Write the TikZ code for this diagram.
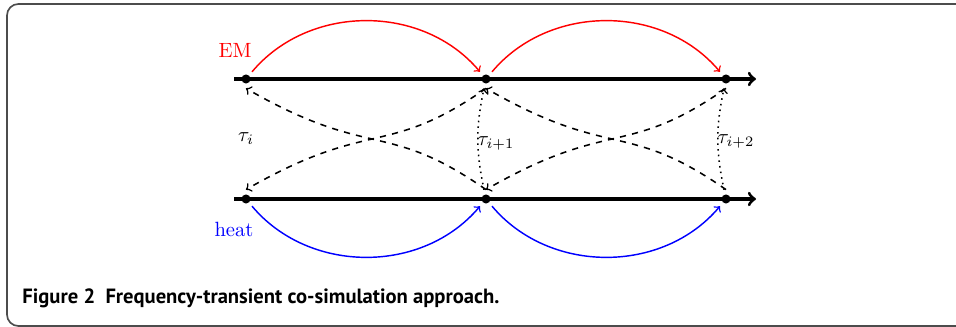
\documentclass[tikz,border=0pt]{standalone}
\usepackage{fontspec}
\newfontfamily\capfont{PT Sans}
\begin{document}
\begin{tikzpicture}[x=0.485pt,y=-0.485pt,
  pt/.style={circle,minimum size=8.7pt,inner sep=0pt,draw=none},
  axis/.style={line width=1.5pt,->},
  emarc/.style={red,line width=0.7pt,->},
  heatarc/.style={blue,line width=0.7pt,->},
  xfer/.style={dashed,line width=0.75pt,->},
  tau/.style={dotted,line width=0.75pt,->},
  frame/.style={draw=black!70,line width=0.8pt,rounded corners=5.5pt}]
\useasboundingbox (0,0) rectangle (956,327);
\clip (0,0) rectangle (956,327);
\draw[frame] (7,4) rectangle (990,326);
% time lines
\coordinate (ta0) at (234,79);
\coordinate (ta1) at (756,79);
\coordinate (tb0) at (234,199);
\coordinate (tb1) at (756,199);
\draw[axis] (ta0) -- (ta1);
\draw[axis] (tb0) -- (tb1);
% points
\node[pt] (a1) at (246,79) {};
\node[pt] (a2) at (486,79) {};
\node[pt] (a3) at (726,79) {};
\node[pt] (b1) at (246,199) {};
\node[pt] (b2) at (486,199) {};
\node[pt] (b3) at (726,199) {};
\foreach \n in {a1,a2,a3,b1,b2,b3} \fill (\n.center) circle[radius=2.2pt];
% EM and heat arcs
\draw[emarc] (a1) to[out=50,in=130] (a2);
\draw[emarc] (a2) to[out=50,in=130] (a3);
\draw[heatarc] (b1) to[out=-50,in=-130] (b2);
\draw[heatarc] (b2) to[out=-50,in=-130] (b3);
% exchange curves
\draw[xfer] (b2.north) .. controls +(-100,-70) and +(125,72) .. (a1.south);
\draw[xfer] (a2.south) .. controls +(-100,70) and +(125,-72) .. (b1.north);
\draw[xfer] (b3.north) .. controls +(-100,-70) and +(125,72) .. (a2.south);
\draw[xfer] (a3.south) .. controls +(-100,70) and +(125,-72) .. (b2.north);
% tau arrows
\draw[tau] (b2) to[bend left=12] (a2);
\draw[tau] (b3) to[bend left=12] (a3);
% labels
\node[red] (em) at (235,50) {EM};
\node[blue] (heat) at (234,229) {heat};
\node (t0) at (246,139) {$\tau_i$};
\node (t1) at (496,143) {$\tau_{i+1}$};
\node (t2) at (736,141) {$\tau_{i+2}$};
\node[anchor=base west,inner sep=0pt,font=\capfont\bfseries\fontsize{10}{12}\selectfont] (cap) at (22,304) {Figure 2\hspace{0.5em}Frequency-transient co-simulation approach.};
\end{tikzpicture}
\end{document}
